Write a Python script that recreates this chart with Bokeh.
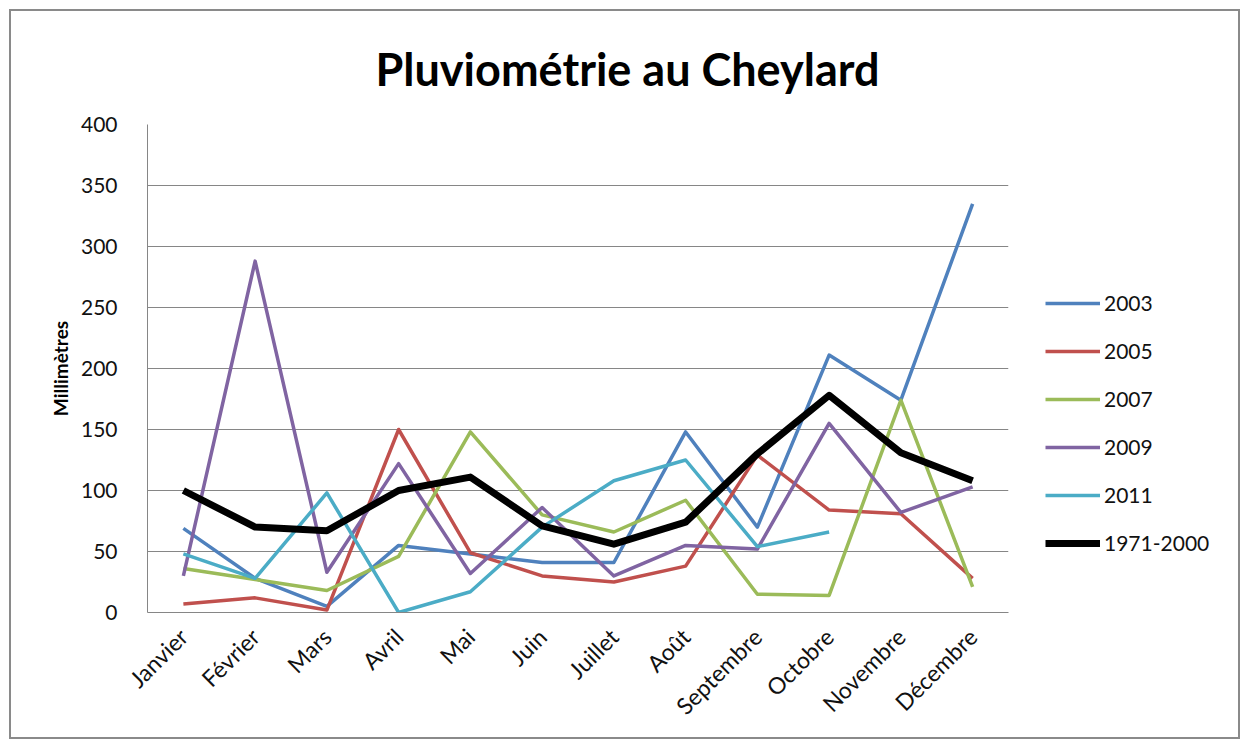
from bokeh.plotting import figure
from bokeh.models import FixedTicker, Legend, LegendItem, Title, Range1d
from bokeh.layouts import row
from bokeh.embed import file_html
from bokeh.resources import INLINE
import math

nan = float("nan")

months = ["Janvier", "Février", "Mars", "Avril", "Mai", "Juin", "Juillet",
          "Août", "Septembre", "Octobre", "Novembre", "Décembre"]
s2003 = [69, 28, 5, 55, 48, 41, 41, 148, 70, 211, 174, 335]
s2005 = [7, 12, 2, 150, 49, 30, 25, 38, 129, 84, 81, 28]
s2007 = [36, 27, 18, 46, 148, 80, 66, 92, 15, 14, 174, 21]
s2009 = [30, 288, 33, 122, 32, 86, 30, 55, 52, 155, 82, 103]
s2011 = [48, 28, 98, 0, 17, 70, 108, 125, 54, 66, nan, nan]
s_norm = [100, 70, 67, 100, 111, 71, 56, 74, 130, 178, 131, 108]
y_ticks = [0, 50, 100, 150, 200, 250, 300, 350, 400]

series = [
    ("2003", s2003, "#4F81BD", 3.5),
    ("2005", s2005, "#C0504D", 3.5),
    ("2007", s2007, "#9BBB59", 3.5),
    ("2009", s2009, "#8064A2", 3.5),
    ("2011", s2011, "#4BACC6", 3.5),
    ("1971-2000", s_norm, "#000000", 7),
]

FONT = "Lato"
H = 726
TOP = 113
BOTTOM = 125

p = figure(width=1007, height=H, x_range=months, y_range=(0, 400),
           output_backend="svg", toolbar_location=None,
           min_border_left=136, min_border_top=TOP, min_border_right=10,
           min_border_bottom=BOTTOM)
p.outline_line_color = None
p.background_fill_color = "white"
p.border_fill_color = "white"

p.xgrid.grid_line_color = None
p.ygrid.grid_line_color = "#868686"
p.ygrid.grid_line_width = 1

p.yaxis.ticker = FixedTicker(ticks=y_ticks)
p.yaxis.major_tick_line_color = None
p.yaxis.minor_tick_line_color = None
p.yaxis.axis_line_color = "#868686"
p.yaxis.major_label_text_font = FONT
p.yaxis.major_label_text_font_size = "21px"
p.yaxis.major_label_text_color = "#111111"
p.yaxis.major_label_standoff = 24
p.yaxis.axis_label = "Millimètres"
p.yaxis.axis_label_text_font = FONT
p.yaxis.axis_label_text_font_style = "bold"
p.yaxis.axis_label_text_font_size = "19px"
p.yaxis.axis_label_text_color = "#000000"
p.yaxis.axis_label_standoff = 6

p.xaxis.major_tick_line_color = None
p.xaxis.axis_line_color = "#868686"
p.xaxis.major_label_orientation = math.pi / 4
p.xaxis.major_label_text_font = FONT
p.xaxis.major_label_text_font_size = "23px"
p.xaxis.major_label_text_color = "#111111"
p.xaxis.major_label_standoff = 14
p.x_range.range_padding = 0

p.title = Title(text="Pluviométrie au Cheylard", text_font=FONT,
                text_font_style="bold", text_font_size="45px",
                align="left", offset=228, text_color="#000000")
p.title.standoff = 57

for name, vals, color, w in series:
    p.line(months, vals, line_color=color, line_width=w, line_join="round")

# legend panel (same series drawn outside its visible y range, only the legend shows)
p2 = figure(width=220, height=H, x_range=months, y_range=Range1d(1000, 1100),
            output_backend="svg", toolbar_location=None,
            x_axis_type=None, y_axis_type=None,
            min_border_left=0, min_border_top=TOP, min_border_right=0,
            min_border_bottom=BOTTOM)
p2.outline_line_color = None
p2.xgrid.visible = False
p2.ygrid.visible = False
items = []
for name, vals, color, w in series:
    r = p2.line(months, vals, line_color=color, line_width=w)
    items.append(LegendItem(label=name, renderers=[r]))
legend = Legend(items=items, location=(27, 57), orientation="vertical",
                label_text_font=FONT, label_text_font_size="21px",
                label_text_color="#111111", glyph_width=55, glyph_height=20,
                label_height=20, spacing=23, padding=0, margin=0,
                label_standoff=4, border_line_color=None,
                background_fill_alpha=0)
p2.add_layout(legend, "center")

layout = row(p, p2)
layout.styles = {"border": "2px solid #8a8a8a", "margin-left": "9px",
                 "margin-top": "9px"}

open("out.html", "w").write(file_html(layout, INLINE))
